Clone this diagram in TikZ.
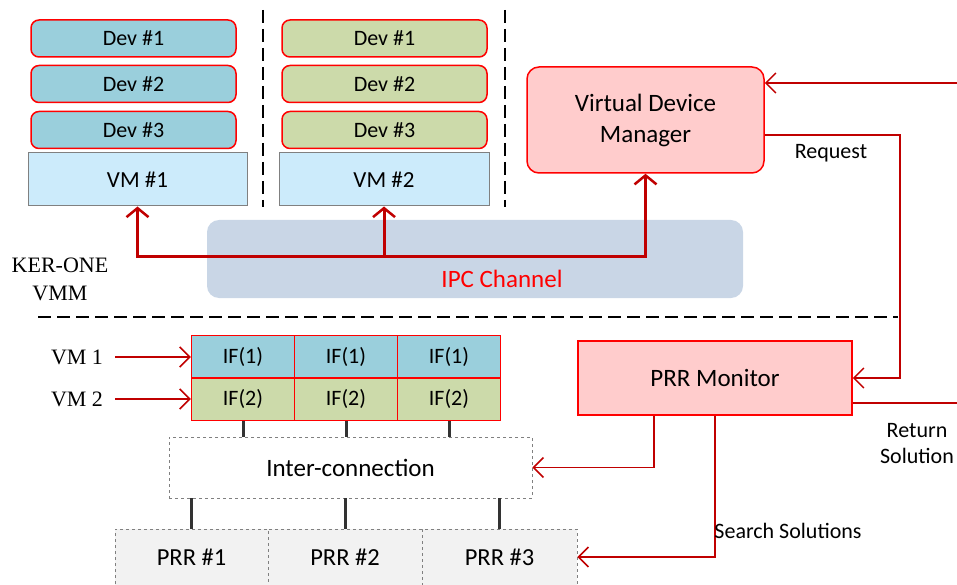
\documentclass[tikz,border=0pt]{standalone}
\usepackage{fontspec}
\setmainfont{Carlito}
\newfontfamily\serifx{Liberation Serif}
\usetikzlibrary{arrows.meta}
\definecolor{devblue}{HTML}{9ACFDC}
\definecolor{devgreen}{HTML}{CCDAAA}
\definecolor{vmfill}{HTML}{CCEBFB}
\definecolor{ipcfill}{HTML}{C9D6E6}
\definecolor{pinkfill}{HTML}{FFCCCC}
\definecolor{boxred}{HTML}{FF0000}
\definecolor{connred}{HTML}{C00000}
\definecolor{prrfill}{HTML}{F2F2F2}
\begin{document}
\begin{tikzpicture}[x=1pt,y=-1pt,
  devbox/.style={draw=boxred,line width=1.5pt,rounded corners=8pt,minimum width=205pt,minimum height=37pt,inner sep=0pt,font=\fontsize{22}{24}\selectfont},
  vmbox/.style={draw=gray,line width=1pt,fill=vmfill,minimum height=53pt,inner sep=0pt,font=\fontsize{23}{26}\selectfont},
  pinkbox/.style={draw=boxred,line width=1.5pt,fill=pinkfill,inner sep=0pt,font=\fontsize{25}{31}\selectfont,align=center},
  ifcell/.style={draw=boxred,line width=1.5pt,minimum width=103pt,minimum height=42.5pt,inner sep=0pt,font=\fontsize{22}{25}\selectfont},
  prrbox/.style={draw=gray,dashed,line width=0.8pt,fill=prrfill,minimum height=56pt,inner sep=0pt,font=\fontsize{24.5}{28}\selectfont},
  conn/.style={draw=connred,line width=1.5pt,-{Straight Barb[length=10pt,width=20pt,line width=1.5pt]}},
  plain/.style={draw=connred,line width=1.5pt},
  bus/.style={draw=connred,line width=3pt,-{Straight Barb[length=9pt,width=22pt,line width=2.5pt]}},
  bar/.style={draw=black!80,line width=3pt},
  sep/.style={draw=black,line width=2pt,dash pattern=on 13pt off 6pt},
  lbl/.style={font=\fontsize{22}{26}\selectfont,align=center,inner sep=0pt},
  slbl/.style={font=\serifx\fontsize{22}{26}\selectfont,align=center,inner sep=0pt}]
\useasboundingbox (0,0) rectangle (957,585);
% separators
\draw[sep] (263,10) -- (263,207);
\draw[sep] (505,10) -- (505,207);
\draw[sep] (38,317) -- (898,317);
% IPC channel
\node[fill=ipcfill,rounded corners=12pt,minimum width=536pt,minimum height=78pt,inner sep=0pt] (ipc) at (475,259) {};
\node[text=boxred,font=\fontsize{25}{28}\selectfont,inner sep=0pt] (ipct) at (502,279) {IPC Channel};
% devices
\node[devbox,fill=devblue] (d11) at (133.5,38.5) {Dev \#1};
\node[devbox,fill=devblue] (d12) at (133.5,84) {Dev \#2};
\node[devbox,fill=devblue] (d13) at (133.5,130) {Dev \#3};
\node[devbox,fill=devgreen] (d21) at (384.5,38.5) {Dev \#1};
\node[devbox,fill=devgreen] (d22) at (384.5,84) {Dev \#2};
\node[devbox,fill=devgreen] (d23) at (384.5,130) {Dev \#3};
\node[vmbox,minimum width=219pt] (vm1) at (137.5,179.5) {VM \#1};
\node[vmbox,minimum width=210pt] (vm2) at (384,179.5) {VM \#2};
% VDM
\node[pinkbox,rounded corners=12pt,minimum width=237pt,minimum height=106pt] (vdm) at (645.5,120) {Virtual Device\\Manager};
% bus
\coordinate (busc) at (384,256);
\draw[bus] (busc) -| (vm1.south);
\draw[bus] (busc) -- (vm2.south);
\draw[bus] (busc) -| (vdm.south);
% KER-ONE
\node[slbl] (ker) at (60,279) {KER-ONE\\[2pt]VMM};
% incoming to VDM
\coordinate (in1) at (957,83);
\draw[conn] (in1) -- (vdm.east |- in1);
% PRR monitor
\node[pinkbox,minimum width=274pt,minimum height=74pt] (mon) at (715,378) {PRR Monitor};
% request
\coordinate (reqc) at (900,135);
\draw[conn] (vdm.east |- reqc) -- (reqc) |- (mon.east);
\node[lbl] (req) at (831,153) {Request};
% IF table
\node[ifcell,fill=devblue] (if11) at (243,356.5) {IF(1)};
\node[ifcell,fill=devblue] (if12) at (346,356.5) {IF(1)};
\node[ifcell,fill=devblue] (if13) at (449,356.5) {IF(1)};
\node[ifcell,fill=devgreen] (if21) at (243,399) {IF(2)};
\node[ifcell,fill=devgreen] (if22) at (346,399) {IF(2)};
\node[ifcell,fill=devgreen] (if23) at (449,399) {IF(2)};
\node[slbl] (vml1) at (77,357) {VM 1};
\node[slbl] (vml2) at (77,399) {VM 2};
\coordinate (a1) at (115,357);
\coordinate (a2) at (115,399);
\draw[conn] (a1) -- (if11.west |- a1);
\draw[conn] (a2) -- (if21.west |- a2);
% interconnection
\node[draw=gray,dashed,line width=0.8pt,fill=white,minimum width=363pt,minimum height=61pt,inner sep=0pt,font=\fontsize{25}{28}\selectfont] (ic) at (350.5,467.5) {Inter-connection};
\draw[bar] (if21.south) -- (if21.south |- ic.north);
\draw[bar] (if22.south) -- (if22.south |- ic.north);
\draw[bar] (if23.south) -- (if23.south |- ic.north);
% PRRs
\node[prrbox,minimum width=153pt] (prr1) at (191.5,557) {PRR \#1};
\node[prrbox,minimum width=154pt] (prr2) at (345,557) {PRR \#2};
\node[prrbox,minimum width=155pt] (prr3) at (499.5,557) {PRR \#3};
\draw[bar] (prr1.north) -- (prr1.north |- ic.south);
\draw[bar] (prr2.north) -- (prr2.north |- ic.south);
\draw[bar] (prr3.north) -- (prr3.north |- ic.south);
% monitor outputs
\coordinate (mx1) at (654,0);
\coordinate (mx2) at (715,0);
\draw[conn] (mon.south -| mx1) |- (ic.east);
\draw[conn] (mon.south -| mx2) |- (prr3.east);
\node[lbl] (ss) at (788,531) {Search Solutions};
\coordinate (ret) at (957,403);
\draw[plain] (mon.east |- ret) -- (ret);
\node[lbl] (rs) at (917,444) {Return\\Solution};
\end{tikzpicture}
\end{document}
